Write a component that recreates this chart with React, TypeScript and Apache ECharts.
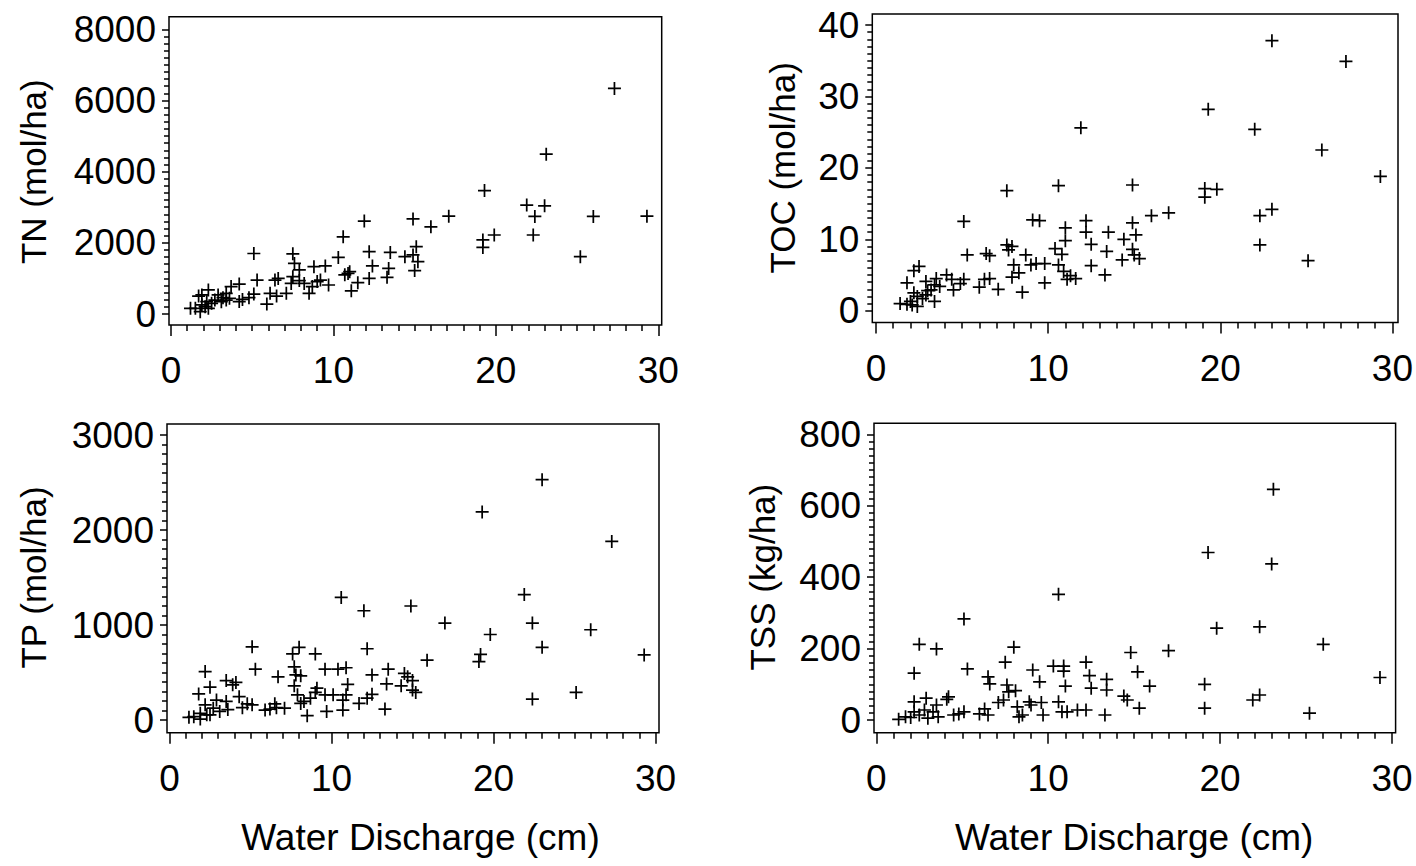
import { useEffect, useRef } from 'react';
import * as echarts from 'echarts';

// Water discharge (cm) vs. export
const tnPoints: [number, number][] = [
  [27.3, 6340], [23.1, 4490], [19.3, 3470], [21.9, 3060], [23.0, 3040], [22.4, 2740], [26.0, 2740],
  [29.3, 2750], [17.1, 2750], [16.0, 2450], [14.9, 2670], [11.9, 2610], [10.6, 2170], [19.9, 2220],
  [19.2, 2080], [19.2, 1870], [22.3, 2220], [25.2, 1610], [5.1, 1700], [7.5, 1690], [7.6, 1420],
  [7.9, 1240], [8.8, 1330], [9.5, 1350], [10.3, 1590], [12.2, 1750], [13.5, 1730], [14.4, 1610],
  [14.9, 1660], [15.1, 1890], [15.2, 1470], [15.0, 1220], [12.4, 1350], [13.4, 1280], [13.3, 1030],
  [12.2, 1000], [11.5, 880], [11.1, 650], [10.9, 1140], [11.0, 1190], [10.7, 1100], [9.7, 815],
  [9.2, 955], [8.7, 770], [8.5, 580], [8.2, 860], [7.9, 940], [7.5, 1050], [7.4, 860], [9.0, 910],
  [6.6, 1000], [6.4, 955], [7.1, 580], [6.5, 505], [6.1, 580], [5.9, 280], [5.3, 955], [5.1, 560],
  [4.8, 460], [4.4, 410], [4.2, 350], [4.2, 840], [3.7, 770], [3.4, 580], [3.4, 390], [3.2, 460],
  [2.9, 535], [2.7, 390], [2.3, 675], [1.9, 535], [1.7, 505], [2.2, 345], [1.9, 255], [1.5, 160],
  [1.2, 160], [1.8, 65], [2.1, 205], [2.3, 160], [2.5, 300], [3.1, 345], [3.6, 440],
];

const tocPoints: [number, number][] = [
  [23.0, 37.8], [27.3, 34.9], [19.3, 28.2], [22.0, 25.4], [11.9, 25.6], [25.9, 22.5], [29.3, 18.8],
  [7.6, 16.8], [10.6, 17.5], [14.9, 17.6], [19.1, 17.1], [19.8, 17.0], [19.1, 15.9], [16.0, 13.3],
  [17.0, 13.7], [23.0, 14.2], [22.3, 13.3], [22.3, 9.2], [25.1, 7.0], [5.1, 12.5], [9.1, 12.7],
  [9.5, 12.6], [11.0, 11.6], [12.2, 12.6], [12.2, 11.0], [12.5, 9.3], [13.5, 11.0], [14.4, 10.0],
  [14.9, 12.3], [15.1, 10.6], [11.0, 9.8], [10.4, 8.7], [10.8, 7.9], [13.4, 8.3], [14.9, 8.6],
  [15.0, 7.8], [15.3, 7.3], [14.3, 7.1], [12.5, 6.3], [13.3, 5.0], [10.6, 6.4], [10.9, 5.5],
  [11.1, 4.4], [11.6, 4.5], [11.3, 4.9], [7.6, 9.2], [7.9, 9.0], [7.7, 8.5], [8.7, 7.8], [9.0, 6.4],
  [9.3, 6.6], [9.8, 6.6], [8.0, 6.4], [8.3, 5.3], [7.9, 4.7], [9.8, 3.9], [8.5, 2.6], [5.3, 7.8],
  [6.4, 8.0], [6.6, 7.7], [6.3, 4.4], [6.6, 4.5], [6.0, 3.3], [7.1, 3.0], [5.1, 4.4], [4.9, 3.8],
  [4.5, 2.9], [4.4, 4.4], [4.1, 5.0], [3.5, 4.5], [3.4, 3.6], [3.7, 3.4], [3.2, 2.9], [3.4, 1.3],
  [2.9, 4.1], [2.9, 2.2], [2.5, 6.2], [2.2, 5.6], [1.8, 3.9], [2.2, 2.5], [2.4, 2.0], [2.0, 1.3],
  [1.4, 1.0], [1.8, 0.9], [2.1, 0.8], [2.4, 0.6], [2.7, 1.7], [3.0, 2.8],
];

const tpPoints: [number, number][] = [
  [23.0, 2530], [19.3, 2190], [27.3, 1880], [10.6, 1290], [12.0, 1150], [14.9, 1200], [21.9, 1320],
  [17.0, 1020], [22.4, 1020], [26.0, 950], [19.8, 900], [5.1, 770], [8.0, 765], [7.6, 695],
  [9.0, 695], [12.2, 750], [23.0, 765], [19.2, 690], [19.1, 615], [15.9, 630], [29.3, 685],
  [25.1, 290], [22.4, 220], [2.2, 510], [5.3, 535], [6.7, 455], [7.7, 560], [7.8, 475], [8.1, 465],
  [7.7, 360], [9.6, 535], [10.4, 535], [10.9, 550], [11.0, 375], [12.5, 475], [13.5, 535],
  [13.4, 380], [12.5, 270], [12.2, 230], [11.7, 175], [14.5, 490], [14.7, 455], [15.0, 415],
  [14.3, 360], [15.0, 315], [15.2, 290], [13.3, 115], [10.9, 265], [10.7, 210], [10.7, 105],
  [9.7, 90], [10.1, 265], [9.6, 265], [9.1, 335], [9.0, 290], [8.7, 230], [8.3, 195], [8.5, 45],
  [8.1, 175], [7.9, 265], [6.5, 170], [6.6, 130], [5.9, 105], [7.1, 125], [6.2, 115], [5.1, 160],
  [4.8, 170], [4.5, 130], [4.3, 245], [4.1, 395], [3.9, 370], [3.5, 415], [2.5, 345], [1.8, 275],
  [2.9, 210], [3.5, 195], [3.6, 110], [3.1, 90], [2.7, 125], [2.2, 160], [1.9, 70], [2.3, 55],
  [1.5, 35], [1.2, 28], [1.9, 10], [2.5, 55],
];

const tssPoints: [number, number][] = [
  [23.1, 646], [19.3, 469], [23.0, 437], [10.6, 352], [5.1, 283], [19.8, 257], [22.3, 261],
  [26.0, 212], [2.5, 212], [3.5, 199], [8.0, 204], [14.8, 189], [17.0, 194], [2.2, 131], [5.3, 143],
  [7.5, 162], [9.1, 140], [10.3, 151], [10.9, 151], [10.9, 137], [12.2, 162], [12.4, 124],
  [12.5, 89], [11.0, 95], [9.5, 107], [15.2, 135], [13.4, 114], [13.4, 84], [15.9, 95], [19.1, 100],
  [29.3, 119], [6.5, 121], [6.6, 101], [7.6, 98], [7.7, 79], [8.1, 82], [7.4, 56], [7.1, 49],
  [8.9, 51], [9.0, 42], [9.6, 49], [9.7, 14], [8.2, 37], [8.5, 14], [8.3, 9], [10.6, 51], [10.8, 23],
  [11.1, 23], [11.7, 28], [12.2, 28], [13.3, 14], [14.4, 67], [14.6, 56], [15.3, 33], [19.1, 33],
  [21.9, 56], [22.3, 70], [25.2, 19], [6.5, 14], [6.0, 17], [6.3, 31], [5.1, 23], [4.8, 17],
  [4.5, 14], [4.1, 58], [4.2, 65], [3.5, 42], [2.9, 61], [2.2, 51], [3.3, 23], [3.6, 9], [3.0, 5],
  [2.5, 14], [2.0, 7], [1.7, 9], [1.3, 2], [2.2, 23], [2.8, 28],
];

const xTickMax = 30;
const xTickStep = 10;
const yTickMax = [8000, 40, 3000, 800];
const yTickStep = [2000, 10, 1000, 200];
const yTitles = ['TN (mol/ha)', 'TOC (mol/ha)', 'TP (mol/ha)', 'TSS (kg/ha)'];
const xTitle = 'Water Discharge (cm)';
const seriesData = [tnPoints, tocPoints, tpPoints, tssPoints];

// layout (pixels): frame box and the 0..max tick span inside it
const layout = [
  { f: { l: 169, r: 661.7, t: 16.7, b: 325 }, a: { l: 171, r: 658.3, t: 29.3, b: 314 }, yGap: 118, xName: false, xPad: 0 },
  { f: { l: 872.3, r: 1398, t: 14, b: 322.5 }, a: { l: 876, r: 1395.4, t: 25, b: 310.7 }, yGap: 72, xName: false, xPad: 0 },
  { f: { l: 167, r: 659, t: 424, b: 732.7 }, a: { l: 169.5, r: 655.5, t: 435, b: 720 }, yGap: 116, xName: true, xPad: 16 },
  { f: { l: 874, r: 1395.6, t: 423.3, b: 732.7 }, a: { l: 876.3, r: 1392, t: 434.3, b: 720 }, yGap: 94, xName: true, xPad: 0 },
];

const FONT = "'Liberation Sans', Arial, Helvetica, sans-serif";
const PLUS = 'path://M5.2,0H6.8V5.2H12V6.8H6.8V12H5.2V6.8H0V5.2H5.2Z';
const fmt = (v: number) => String(v);

function buildOption() {
  const grid: any[] = [];
  const xAxis: any[] = [];
  const yAxis: any[] = [];
  const series: any[] = [];
  layout.forEach((p, i) => {
    const { f, a } = p;
    grid.push({
      left: f.l, top: f.t, width: f.r - f.l, height: f.b - f.t,
      show: true, borderColor: '#000', borderWidth: 1.5, backgroundColor: 'transparent',
    });
    grid.push({ left: a.l, top: a.t, width: a.r - a.l, height: a.b - a.t, show: false });
    xAxis.push({ gridIndex: 2 * i, type: 'value', show: false, min: 0, max: 1 });
    yAxis.push({ gridIndex: 2 * i, type: 'value', show: false, min: 0, max: 1 });
    xAxis.push({
      gridIndex: 2 * i + 1, type: 'value', min: 0, max: xTickMax, interval: xTickStep,
      position: 'bottom', offset: f.b - a.b,
      axisLine: { show: false, onZero: false },
      axisTick: { show: true, inside: false, length: 11, lineStyle: { color: '#000', width: 1.5 } },
      minorTick: { show: true, splitNumber: 10, length: 6, lineStyle: { color: '#000', width: 1.5 } },
      splitLine: { show: false },
      minorSplitLine: { show: false },
      axisLabel: { fontSize: 37, color: '#000', fontFamily: FONT, margin: 27, formatter: fmt },
      name: p.xName ? xTitle : '',
      nameLocation: 'middle', nameGap: 86,
      nameTextStyle: { fontSize: 37, color: '#000', fontFamily: FONT, padding: [0, 0, 0, p.xPad] },
    });
    yAxis.push({
      gridIndex: 2 * i + 1, type: 'value', min: 0, max: yTickMax[i], interval: yTickStep[i],
      position: 'left', offset: a.l - f.l,
      axisLine: { show: false, onZero: false },
      axisTick: { show: true, inside: false, length: 7, lineStyle: { color: '#000', width: 1.5 } },
      minorTick: { show: true, splitNumber: 10, length: 5, lineStyle: { color: '#000', width: 1.5 } },
      splitLine: { show: false },
      minorSplitLine: { show: false },
      axisLabel: { fontSize: 37, color: '#000', fontFamily: FONT, margin: 13, formatter: fmt },
      name: yTitles[i],
      nameLocation: 'middle', nameRotate: 90, nameGap: p.yGap,
      nameTextStyle: { fontSize: 35, color: '#000', fontFamily: FONT },
    });
    series.push({
      type: 'scatter',
      xAxisIndex: 2 * i + 1, yAxisIndex: 2 * i + 1,
      data: seriesData[i],
      symbol: PLUS, symbolSize: 13,
      itemStyle: { color: '#000', opacity: 1 },
      clip: false,
      silent: true,
    });
  });
  return { animation: false, backgroundColor: '#fff', grid, xAxis, yAxis, series };
}

export default function App() {
  const ref = useRef<HTMLDivElement>(null);
  useEffect(() => {
    if (!ref.current) return;
    const chart = echarts.init(ref.current, undefined, { renderer: 'svg' });
    chart.setOption(buildOption() as any);
    return () => chart.dispose();
  }, []);
  return (
    <div
      ref={ref}
      style={{ position: 'fixed', left: 0, top: 0, width: 1416, height: 866, background: '#fff' }}
    />
  );
}
